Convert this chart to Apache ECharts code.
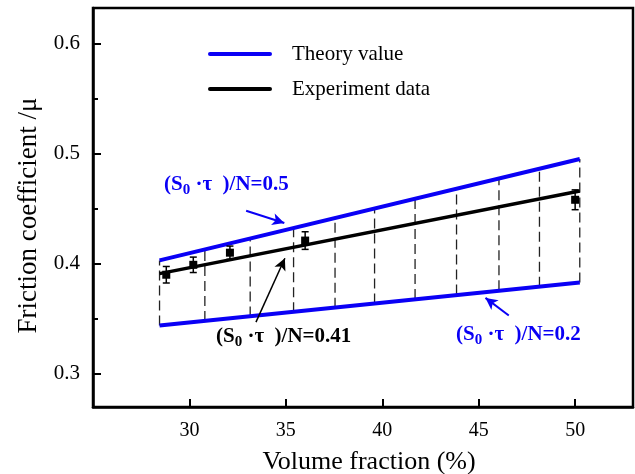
<!DOCTYPE html>
<html>
<head>
<meta charset="utf-8">
<script src="https://cdn.jsdelivr.net/npm/echarts@6/dist/echarts.min.js"></script>
<style>
    html, body { margin: 0; padding: 0; background: #fff; }
    #chart { width: 635px; height: 474px; }
</style>
</head>
<body>
<div id="chart"></div>
<script>
// axis ticks
const xTicks = [30, 35, 40, 45, 50];
const yTicks = [0.3, 0.4, 0.5, 0.6];
const yMinorTicks = [0.35, 0.45, 0.55];

// theory lines (S0*tau)/N = 0.5 and 0.2
const theoryX = [28.45, 50.24];
const theoryHigh = [0.403, 0.495];
const theoryLow = [0.344, 0.383];
// fitted experiment line (S0*tau)/N = 0.41
const fitY = [0.391, 0.466];

// vertical dashed lines between the two theory lines
const dropX = [28.45, 30.8, 33.15, 35.4, 37.55, 39.6, 41.7, 43.85, 46.05, 48.15, 50.24];
const dropTop = [0.403, 0.413, 0.423, 0.432, 0.441, 0.450, 0.459, 0.468, 0.477, 0.486, 0.495];
const dropBottom = [0.344, 0.348, 0.352, 0.356, 0.360, 0.364, 0.368, 0.372, 0.376, 0.379, 0.383];

// experiment points
const expX = [28.8, 30.2, 32.1, 36.0, 50.0];
const expY = [0.390, 0.399, 0.410, 0.421, 0.458];
const expErr = [0.0075, 0.007, 0.006, 0.008, 0.009];

const BLUE = '#0a00f5';
const serif = 'Liberation Serif, Times New Roman, serif';

let myChart = echarts.init(document.getElementById('chart'));

function pairs(xs, ys) {
    let out = [];
    for (var i = 0; i < xs.length; i++) {
        out.push([xs[i], ys[i]]);
    }
    return out;
}

let dropData = [];
for (var i = 0; i < dropX.length; i++) {
    dropData.push([dropX[i], dropBottom[i], dropTop[i]]);
}
let expData = [];
for (var j = 0; j < expX.length; j++) {
    expData.push([expX[j], expY[j], expErr[j]]);
}

function subLabel(v) {
    return '{a|(S}{s|0}{a| \u00b7\u03c4  )/N=' + v + '}';
}
function richStyle(color) {
    return {
        a: { fontFamily: serif, fontSize: 21, fontWeight: 'bold', fill: color },
        s: { fontFamily: serif, fontSize: 15, fontWeight: 'bold', fill: color, padding: [11, 0, 0, 0] }
    };
}

let option = {
    animation: false,
    backgroundColor: '#fff',
    grid: {
        left: 93, top: 8, right: 2, bottom: 67,
        outerBoundsMode: 'none',
        show: true, borderColor: '#000', borderWidth: 2.5
    },
    xAxis: [{
        type: 'value', min: 25, max: 53,
        name: 'Volume fraction (%)',
        nameLocation: 'middle', nameGap: 42,
        nameTextStyle: { fontFamily: serif, fontSize: 26, color: '#000', padding: [0, 0, 0, 12] },
        axisLine: { show: true, onZero: false, lineStyle: { color: '#000', width: 2.5 } },
        axisTick: { show: true, inside: true, length: 8, lineStyle: { color: '#000', width: 2 }, customValues: xTicks },
        axisLabel: { fontFamily: serif, fontSize: 20, color: '#000', margin: 14, customValues: xTicks },
        splitLine: { show: false }
    }],
    yAxis: [{
        type: 'value', min: 0.27, max: 0.632,
        name: 'Friction coefficient /\u03bc',
        nameLocation: 'middle', nameGap: 41,
        nameTextStyle: { fontFamily: serif, fontSize: 27, color: '#000', padding: [0, 0, 0, -16] },
        axisLine: { show: true, onZero: false, lineStyle: { color: '#000', width: 2.5 } },
        axisTick: { show: true, inside: true, length: 8, lineStyle: { color: '#000', width: 2 }, customValues: yTicks },
        axisLabel: { fontFamily: serif, fontSize: 21, color: '#000', margin: 13, customValues: yTicks,
            formatter: function (v) { return v.toFixed(1); } },
        splitLine: { show: false }
    }, {
        type: 'value', min: 0.27, max: 0.632, position: 'left',
        axisLine: { show: false },
        axisTick: { show: true, inside: true, length: 5, lineStyle: { color: '#000', width: 2 }, customValues: yMinorTicks },
        axisLabel: { show: false },
        splitLine: { show: false }
    }],
    series: [
        {
            name: 'drops',
            type: 'custom',
            z: 1,
            renderItem: function (params, api) {
                let a = api.coord([api.value(0), api.value(1)]);
                let b = api.coord([api.value(0), api.value(2)]);
                return {
                    type: 'line',
                    shape: { x1: a[0], y1: a[1], x2: b[0], y2: b[1] },
                    style: { stroke: '#222', lineWidth: 1.3, lineDash: [10, 5] }
                };
            },
            data: dropData
        },
        {
            name: 'Theory value',
            type: 'line', z: 3,
            symbol: 'none',
            lineStyle: { color: BLUE, width: 4 },
            data: pairs(theoryX, theoryHigh),
            markLine: {
                silent: true, symbol: ['none', 'arrow'], symbolSize: [9, 12],
                label: { show: false },
                lineStyle: { color: BLUE, width: 2, type: 'solid' },
                data: [
                    [{ coord: [32.94, 0.448] }, { coord: [34.92, 0.437] }],
                    [{ coord: [46.56, 0.353] }, { coord: [45.35, 0.369] }]
                ]
            }
        },
        {
            name: 'Theory value',
            type: 'line', z: 3,
            symbol: 'none',
            lineStyle: { color: BLUE, width: 4 },
            data: pairs(theoryX, theoryLow)
        },
        {
            name: 'Experiment data',
            type: 'line', z: 4,
            symbol: 'none',
            lineStyle: { color: '#000', width: 3.5 },
            data: pairs(theoryX, fitY),
            markLine: {
                silent: true, symbol: ['none', 'arrow'], symbolSize: [9, 12],
                label: { show: false },
                lineStyle: { color: '#000', width: 1.5, type: 'solid' },
                data: [
                    [{ coord: [33.45, 0.347] }, { coord: [34.95, 0.405] }]
                ]
            }
        },
        {
            name: 'points',
            type: 'custom',
            z: 5,
            renderItem: function (params, api) {
                let x = api.value(0), y = api.value(1), e = api.value(2);
                let c = api.coord([x, y]);
                let t = api.coord([x, y + e]);
                let b = api.coord([x, y - e]);
                let st = { stroke: '#000', lineWidth: 1.5 };
                return {
                    type: 'group',
                    children: [
                        { type: 'line', shape: { x1: c[0], y1: t[1], x2: c[0], y2: b[1] }, style: st },
                        { type: 'line', shape: { x1: c[0] - 3.5, y1: t[1], x2: c[0] + 3.5, y2: t[1] }, style: st },
                        { type: 'line', shape: { x1: c[0] - 3.5, y1: b[1], x2: c[0] + 3.5, y2: b[1] }, style: st },
                        { type: 'rect', shape: { x: c[0] - 4, y: c[1] - 4, width: 8, height: 8 }, style: { fill: '#000' } }
                    ]
                };
            },
            data: expData
        }
    ],
    graphic: [
        { type: 'line', shape: { x1: 210, y1: 54, x2: 270, y2: 54 }, style: { stroke: BLUE, lineWidth: 4, lineCap: 'round' } },
        { type: 'text', x: 292, y: 54, style: { text: 'Theory value', font: '21px ' + serif, fill: '#000', verticalAlign: 'middle' } },
        { type: 'line', shape: { x1: 210, y1: 89, x2: 270, y2: 89 }, style: { stroke: '#000', lineWidth: 4, lineCap: 'round' } },
        { type: 'text', x: 292, y: 89, style: { text: 'Experiment data', font: '21px ' + serif, fill: '#000', verticalAlign: 'middle' } },
        { type: 'text', x: 164, y: 185, style: { text: subLabel('0.5'), verticalAlign: 'middle', rich: richStyle(BLUE) } },
        { type: 'text', x: 216, y: 337, style: { text: subLabel('0.41'), verticalAlign: 'middle', rich: richStyle('#000') } },
        { type: 'text', x: 456, y: 335, style: { text: subLabel('0.2'), verticalAlign: 'middle', rich: richStyle(BLUE) } }
    ]
};
myChart.setOption(option, true);
</script>
</body>
</html>
